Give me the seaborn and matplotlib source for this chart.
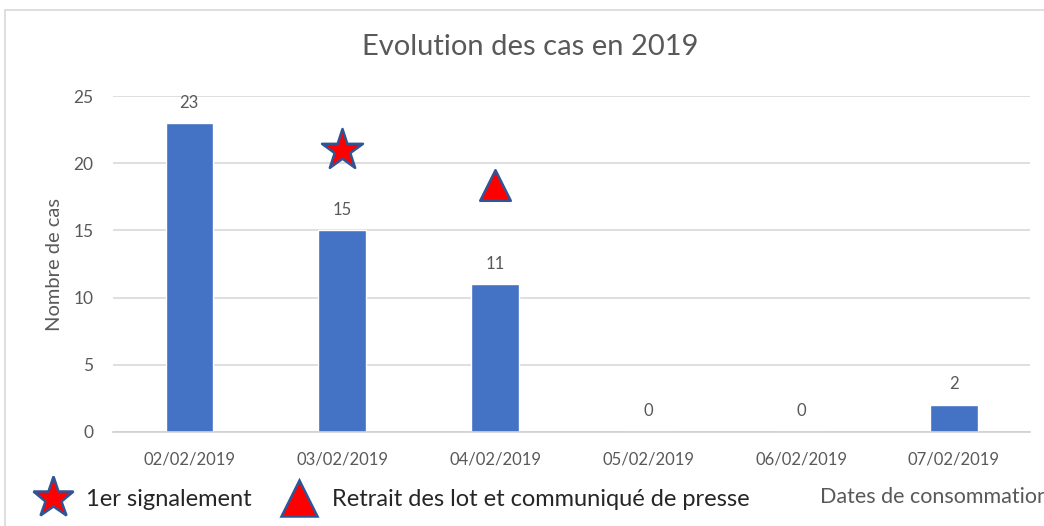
"""
Evolution des cas en 2019 - bar chart with event markers
"""

import pandas as pd
import seaborn as sns
import matplotlib.pyplot as plt
from matplotlib.lines import Line2D
from matplotlib.patches import Rectangle

# Data

dates = ['02/02/2019', '03/02/2019', '04/02/2019',
         '05/02/2019', '06/02/2019', '07/02/2019']
cases = [23, 15, 11, 0, 0, 2]

star_date = ['03/02/2019']  # 1er signalement
star_value = [21]
tri_date = ['04/02/2019']   # Retrait des lot et communiqué de presse
tri_value = [18.4]

y_ticks = [0, 5, 10, 15, 20, 25]

df = pd.DataFrame({'Date': dates, 'Cas': cases})

# Style

sns.set_style('white')
plt.rcParams['font.family'] = ['Lato', 'DejaVu Sans']
TXT = '#595959'
BAR = '#4472C4'
RED = '#FF0000'
EDGE = '#2F5597'
LINE = '#D0D0D0'

fig = plt.figure(figsize=(10.44, 5.26), dpi=100)
ax = fig.add_axes([0.108, 0.179, 0.879, 0.638])

sns.barplot(x='Date', y='Cas', data=df, color=BAR, width=0.31,
            saturation=1, ax=ax)

# Data labels
ax.bar_label(ax.containers[0], padding=9, color=TXT, fontsize=12)

# Event markers (categorical positions)
star_x = [dates.index(d) for d in star_date]
tri_x = [dates.index(d) for d in tri_date]
sns.scatterplot(x=star_x, y=star_value, marker='*', s=31 ** 2, color=RED,
                edgecolor=EDGE, linewidth=1.8, ax=ax, zorder=5)
sns.scatterplot(x=tri_x, y=tri_value, marker='^', s=22 ** 2, color=RED,
                edgecolor=EDGE, linewidth=1.8, ax=ax, zorder=5)

# Axes
ax.set_xlim(-0.5, len(dates) - 0.5)
ax.set_ylim(0, 25)
ax.set_yticks(y_ticks)
ax.yaxis.grid(True, color='#D9D9D9', linewidth=1.2)
ax.set_axisbelow(True)
for s in ['top', 'right', 'left']:
    ax.spines[s].set_visible(False)
ax.spines['bottom'].set_color(LINE)
ax.spines['bottom'].set_linewidth(1.2)
ax.tick_params(axis='y', length=0, colors=TXT, labelsize=12.5, pad=14)
ax.tick_params(axis='x', which='major', length=0, colors=TXT,
               labelsize=12, pad=14)
ax.set_xticks([i - 0.5 for i in range(len(dates) + 1)], minor=True)
ax.tick_params(axis='x', which='minor', length=6, width=1.2, color=LINE)
ax.set_xlabel('')
ax.set_ylabel('Nombre de cas', color=TXT, fontsize=14.5, labelpad=7)

fig.suptitle('Evolution des cas en 2019', color=TXT, fontsize=21,
             x=0.508, y=0.91, va='center')

# Bottom legend-like row
handles = [Line2D([], [], marker='*', linestyle='', markersize=31,
                  markerfacecolor=RED, markeredgecolor=EDGE,
                  markeredgewidth=1.8),
           Line2D([], [], marker='^', linestyle='', markersize=26,
                  markerfacecolor=RED, markeredgecolor=EDGE,
                  markeredgewidth=1.8)]
fig.legend(handles, ['1er signalement',
                     'Retrait des lot et communiqué de presse'],
           loc='lower left', bbox_to_anchor=(0.008, -0.01), ncol=2,
           frameon=False, fontsize=17, handletextpad=0.4,
           columnspacing=1.0, handlelength=2.0)

fig.text(0.785, 0.055, 'Dates de consommation', color=TXT, fontsize=15.5,
         ha='left', va='center')

# Chart area border
fig.patches.append(Rectangle((5 / 1044, -0.1), 1.2, 1.1 - 10 / 526,
                             transform=fig.transFigure, fill=False,
                             edgecolor='#D9D9D9', linewidth=1.2))

plt.savefig('out.png', dpi=100)
